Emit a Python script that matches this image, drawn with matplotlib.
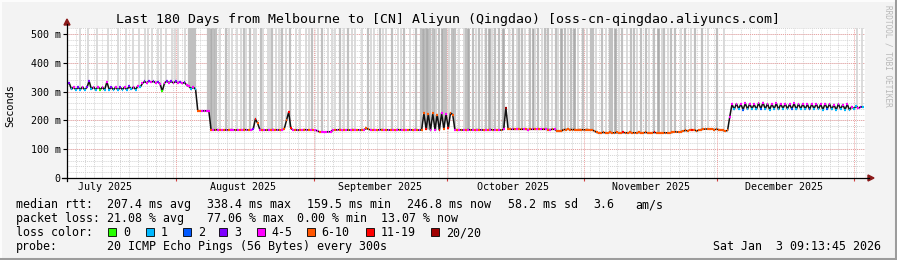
import matplotlib
matplotlib.use("Agg")
import matplotlib.pyplot as plt
from matplotlib.patches import Rectangle, Polygon
from matplotlib.lines import Line2D
import matplotlib.transforms as mtransforms
import numpy as np

W, H = 897, 260
MONO = "DejaVu Sans Mono"

# median rtt in ms, one reading every half day, starting Jul 7 2025 09:13
median_a = [325, 330, 308, 316, 306, 315, 307, 316, 306, 315,
            336, 308, 316, 306, 317, 307, 315, 306, 334, 307,
            315, 306, 316, 305, 315, 307, 316, 306, 318, 308,
            316, 307, 320, 315, 328, 335, 330, 337, 332, 336,
            330, 334, 326, 302, 330, 336, 331, 335, 330, 335,
            330, 334, 328, 332, 322, 318, 310, 315, 308]
median_b = [233, 233, 233, 233, 233, 232]
median_c = [167, 166, 167, 168, 167, 167, 166, 167, 167, 168,
            167, 167, 166, 167, 167, 168, 167, 167, 166, 170,
            205, 190, 168, 167, 167, 166, 167, 167, 168, 167,
            167, 166, 167, 170, 200, 229, 172, 167, 167, 166,
            167, 167, 168, 167, 167, 166, 167, 167, 163, 160,
            160, 160, 160, 160, 161, 166, 167, 167, 168, 167,
            167, 167, 166, 167, 168, 167, 167, 167, 166, 168,
            172, 169, 167, 167, 166, 167, 167, 168, 167, 167,
            167, 166, 167, 167, 168, 167, 167, 167, 166, 167,
            167, 167, 168, 167, 166, 167]
median_d = [225, 170, 222, 165, 224, 168, 220, 166, 226, 170, 223, 172, 226, 220]
median_e = [167, 168, 167, 167, 166, 167, 168, 167, 167, 167,
            168, 167, 167, 166, 167, 167, 168, 167, 167, 167,
            167, 166, 169, 243, 170, 169, 169, 169, 169, 169,
            169, 169, 169, 168, 169, 169, 169, 169, 169, 169,
            169, 169, 168, 168, 169, 169, 164, 163, 163, 168,
            168, 169, 168, 168, 168, 167, 168, 168, 167, 168,
            168, 167, 166, 163]
median_f = [158, 157, 157, 158, 157, 157, 158, 157, 157, 158,
            157, 157, 158, 157, 157, 158, 157, 157, 157, 158,
            157, 157, 158, 157, 157, 157, 158, 157, 157, 157,
            157, 157, 157, 157, 158, 160, 160, 159, 161, 163,
            165, 164, 166, 167, 167, 163, 166, 168, 169, 170,
            170, 169, 170, 168, 169, 168, 167, 165, 163]
median_g = [165, 213,
            256, 238, 258, 240, 257, 237, 259, 239, 258, 240,
            256, 238, 260, 240, 262, 239, 258, 237, 257, 240,
            259, 238, 257, 241, 258, 240, 256, 239, 259, 238,
            257, 240, 258, 239, 256, 238, 257, 240, 258, 239,
            256, 237, 258, 240, 257, 238, 255, 236, 257, 239,
            255, 237, 256, 236, 248, 240, 250, 242, 247, 246]

# loss colour class of each reading
loss_a = "4314131413" "3141404141" "3141314131" "4141434343" "4340434343" "434344141"
loss_b = "664444"
loss_c = ("6464646464" "4646464643" "r646464646" "46466rr464" "6464646446"
          "4444446464" "6464646464" "6646464646" "4646464646" "464646")
loss_d = "6r64646r464r66"
loss_e = ("4646464646" "4646464646" "464x664646" "6464646464" "6464646666"
          "6666666666" "6666")
loss_f = "6666666666" "66r6666666" "666666r666" "6666666666" "666r666666" "666666666"
loss_g = "64" "4141424141" "4142414141" "4141414241" "4141424141" "4142414141" "4141411431"

median = median_a + median_b + median_c + median_d + median_e + median_f + median_g
loss = loss_a + loss_b + loss_c + loss_d + loss_e + loss_f + loss_g
days = np.arange(len(median)) * 0.5

# smoke: days with pings reaching off the top of the graph
smoke_days = [2.9, 4.7, 6.8, 9.2, 11.5, 13.3, 14.9, 17.6, 19.1, 20.5, 22.3, 23.7, 25.0, 26.6,
              27.6, 28.0, 28.4, 28.8,
              31.7, 32.1, 32.5, 32.9, 33.3, 33.7,
              34.5, 35.9, 37.2, 38.4, 39.9, 40.4, 41.2, 42.2, 42.6, 43.8, 44.2,
              45.3, 46.2, 47.1, 48.5, 49.3, 50.3, 51.7, 52.6, 53.9, 55.3, 56.6, 57.5, 58.9,
              60.5, 61.6, 62.4, 63.4, 65.0, 66.5, 67.9, 69.3, 70.6, 72.0, 73.3, 74.7, 76.0, 77.4, 78.7,
              79.8, 80.4, 80.9, 81.2, 81.9, 82.5, 83.0, 83.3, 84.0, 84.6, 85.0, 85.4, 86.1, 86.8,
              87.2, 87.6, 88.4,
              89.5, 90.0, 90.4, 91.6, 92.3, 92.9, 93.5, 94.4, 95.2, 95.8, 96.6, 97.5, 98.3, 99.6,
              100.5, 101.4, 102.0, 102.6, 103.4, 104.5, 105.0, 105.6, 106.3, 107.2, 107.8, 108.4,
              109.3, 110.2, 110.8, 111.5, 112.4, 113.1, 113.7, 114.3, 115.2, 116.4, 117.3, 118.1,
              118.7, 119.4,
              120.6, 121.5, 122.4, 123.0, 123.6, 124.5, 125.2, 126.4, 127.3, 128.0, 128.6, 129.4,
              130.5, 131.3, 132.4, 133.2, 134.1, 134.7, 135.5, 136.3, 137.2, 138.4, 139.5, 140.8,
              141.6,
              143.2, 144.6, 146.6, 148.3, 178.3, 179.4,
              16.2, 18.3, 21.3, 24.3, 36.5, 39.2, 45.8, 47.8, 54.6, 59.7,
              64.2, 68.6, 71.3, 75.3]
smoke_shade = ("llllllllllllll" "mmmm" "mmdmdm" "lmllmlmllml" "lmlmlmlllmlml" "lmlmllmlmlmlmlm"
               "mdmdmmdlmdmmlmdml"
               "lmdmlmlmdl" "mmdlmlmmlm" "dlmlmmlmld" "mlmdlmlmml"
               "mlmmdlmlmmlmmlmdlmlmmlmlm"
               "mlmlll"
               "llllllllllllll")
assert len(smoke_days) == len(smoke_shade)

month_starts = [24.62, 55.62, 85.62, 116.62, 146.62, 177.62]
month_mids = [8.62, 39.62, 70.62, 100.62, 131.62, 161.62]
month_names = ["July 2025", "August 2025", "September 2025", "October 2025",
               "November 2025", "December 2025"]

loss_classes = ["0", "1", "2", "3", "4", "6", "r", "x"]
loss_names = ["0", "1", "2", "3", "4-5", "6-10", "11-19", "20/20"]
loss_hex = ["#26ff00", "#00b8ff", "#0059ff", "#7e00ff", "#ff00ff", "#ff5500", "#ff0000", "#a00000"]
shade_hex = {"l": "#d8d8d8", "m": "#c0c0c0", "d": "#acacac"}
shade_lw = {"l": 1.3, "m": 1.6, "d": 1.9}

stats_rtt = [("median rtt:", 16), ("207.4 ms avg", 107.3), ("338.4 ms max", 207.3),
             ("159.5 ms min", 307.3), ("246.8 ms now", 407.3), ("58.2 ms sd", 507.7),
             ("3.6", 593.3), ("am/s", 635)]
stats_loss = [("packet loss:", 16), ("21.08 % avg", 107.3), ("77.06 % max", 207.3),
              ("0.00 % min", 297), ("13.07 % now", 381)]

YTOP = 522


def fx(x):
    return x / W


def fy(y):
    return 1 - y / H


fig = plt.figure(figsize=(W / 100, H / 100), dpi=100)
fig.patch.set_facecolor("#f3f3f3")

ax = fig.add_axes([fx(67), fy(178), (865 - 67) / W, (178 - 27.6) / H])
ax.set_facecolor("white")
ax.set_xlim(0, 180)
ax.set_ylim(0, YTOP)
for s in ax.spines.values():
    s.set_visible(False)

# grid
dot = (0, (1, 1))
for x in np.arange(0, 180.1, 2):
    ax.axvline(x, color="#d4d4d4", lw=0.7, ls=dot, zorder=0)
for y in np.arange(20, YTOP, 20):
    ax.axhline(y, color="#d4d4d4", lw=0.7, ls=dot, zorder=0)
for x in month_starts:
    ax.axvline(x, color="#eba0a0", lw=0.7, ls=dot, zorder=1)
for y in range(100, 501, 100):
    ax.axhline(y, color="#eba0a0", lw=0.7, ls=dot, zorder=1)

# smoke
bottoms = [median[min(int(round(d * 2)), len(median) - 1)] for d in smoke_days]
ax.vlines(smoke_days, bottoms, YTOP, colors=[shade_hex[c] for c in smoke_shade],
          lw=[shade_lw[c] for c in smoke_shade], zorder=2)

# median line coloured by loss
cmap = dict(zip(loss_classes, loss_hex))
ax.plot(days, median, color="#111111", lw=1.1, zorder=3)
ax.hlines(median, days - 0.2, days + 0.2, colors=[cmap[c] for c in loss], lw=1.6, zorder=4)

# axis ticks and labels
ax.set_yticks(range(0, 501, 100))
ax.set_yticklabels([])
ax.tick_params(axis="y", length=3, width=0.8, color="black", direction="out")
ax.set_xticks(month_starts)
ax.set_xticklabels([])
ax.tick_params(axis="x", length=2.5, width=0.8, color="#d04040", direction="out")

for v in range(0, 501, 100):
    lab = "0" if v == 0 else f"{v} m"
    fig.text(fx(60.5), fy(178 - v * (150.4 / YTOP)), lab, ha="right", va="center_baseline",
             family=MONO, fontsize=7.2)

xt = mtransforms.blended_transform_factory(ax.transData, fig.transFigure)
for d, name in zip(month_mids, month_names):
    ax.text(d, fy(190.5), name, transform=xt, ha="center", va="baseline",
            family=MONO, fontsize=7.2, clip_on=False)

fig.text(fx(10.5), fy(106), "Seconds", rotation=90, ha="center", va="center",
         family=MONO, fontsize=7.4)
fig.text(fx(447.5), fy(23.5), "Last 180 Days from Melbourne to [CN] Aliyun (Qingdao) "
         "[oss-cn-qingdao.aliyuncs.com]", ha="center", va="baseline", family=MONO, fontsize=9.55)
fig.text(fx(887.5), fy(5), "RRDTOOL / TOBI OETIKER", rotation=270, ha="center", va="top",
         family=MONO, fontsize=5.6, color="#b8b8b8")

# axis lines with arrows
fig.add_artist(Line2D([fx(67), fx(67)], [fy(181), fy(24)], color="black", lw=0.9))
fig.add_artist(Line2D([fx(62), fx(869)], [fy(178), fy(178)], color="black", lw=0.9))
fig.add_artist(Polygon([[fx(64), fy(25)], [fx(70), fy(25)], [fx(67), fy(19)]],
                       closed=True, color="#8b1a1a"))
fig.add_artist(Polygon([[fx(868), fy(175)], [fx(868), fy(181)], [fx(874), fy(178)]],
                       closed=True, color="#8b1a1a"))

# legend / statistics
for txt, x in stats_rtt:
    fig.text(fx(x), fy(208), txt, ha="left", va="baseline", family=MONO, fontsize=8.4)
for txt, x in stats_loss:
    fig.text(fx(x), fy(222), txt, ha="left", va="baseline", family=MONO, fontsize=8.4)
fig.text(fx(16), fy(236), "loss color:", ha="left", va="baseline", family=MONO, fontsize=8.4)
sq_x = [108, 145.7, 182.7, 219, 256.7, 306.7, 366, 430.7]
for x, name, col in zip(sq_x, loss_names, loss_hex):
    fig.add_artist(Rectangle((fx(x), fy(236)), 8 / W, 8 / H, facecolor=col,
                             edgecolor="black", lw=0.6))
    fig.text(fx(x + 15), fy(236), name, ha="left", va="baseline", family=MONO, fontsize=8.4)
fig.text(fx(16), fy(250), "probe:", ha="left", va="baseline", family=MONO, fontsize=8.4)
fig.text(fx(107.3), fy(250), "20 ICMP Echo Pings (56 Bytes) every 300s", ha="left",
         va="baseline", family=MONO, fontsize=8.4)
fig.text(fx(881), fy(250), "Sat Jan  3 09:13:45 2026", ha="right", va="baseline",
         family=MONO, fontsize=8.4)

# frame
fig.add_artist(Line2D([fx(0.5), fx(896)], [fy(0.5), fy(0.5)], color="#fcfcfc", lw=1.5))
fig.add_artist(Line2D([fx(0.5), fx(0.5)], [fy(0.5), fy(259.5)], color="#fcfcfc", lw=1.5))
fig.add_artist(Line2D([fx(895.5), fx(895.5)], [fy(0), fy(260)], color="#9c9c9c", lw=2.2))
fig.add_artist(Line2D([fx(0), fx(897)], [fy(258.5), fy(258.5)], color="#9c9c9c", lw=2.2))

fig.savefig("out.png", dpi=100, facecolor=fig.get_facecolor())
